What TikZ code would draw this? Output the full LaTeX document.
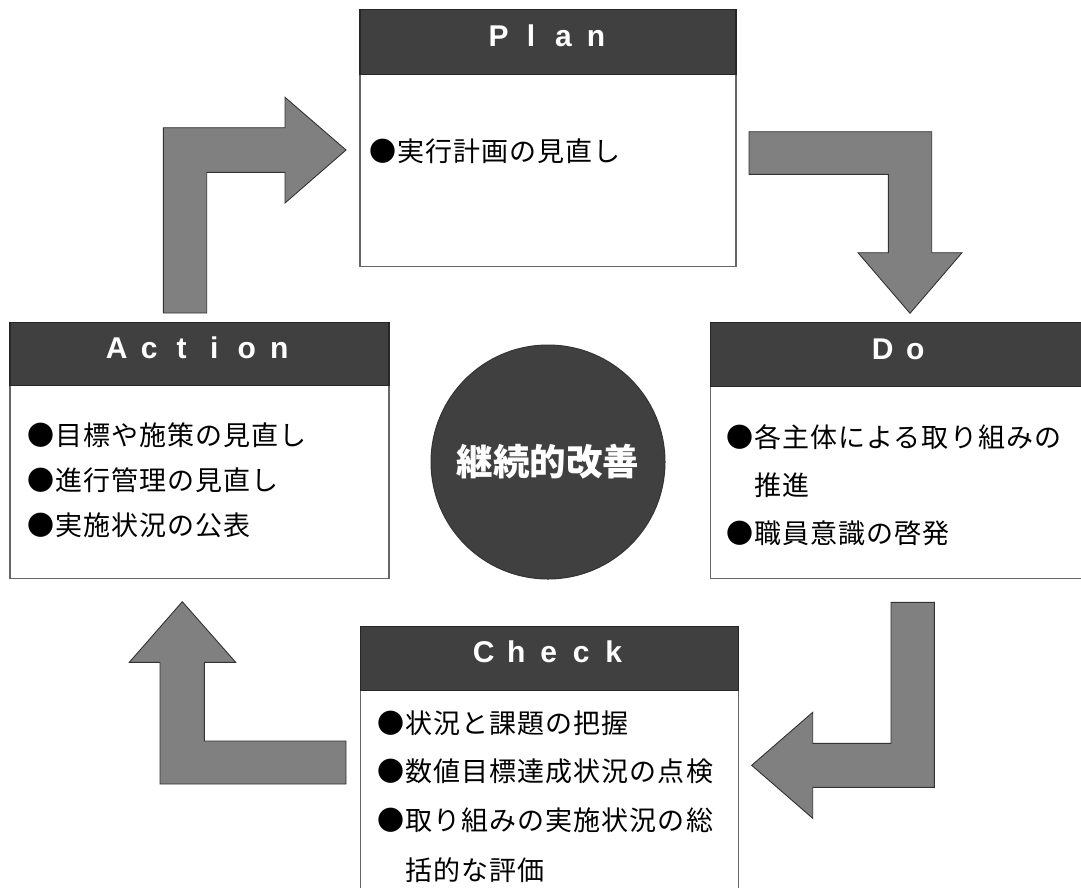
\documentclass[tikz,border=0pt]{standalone}
\usepackage{fontspec}
\newfontfamily\jpfont[LetterSpace=4]{Noto Sans CJK JP}
\newfontfamily\jpplain{Noto Sans CJK JP}
\newfontfamily\hdfont{Liberation Sans}
\newcommand\pitchbox[1]{\makebox[32.5pt]{#1}}
\definecolor{hdgray}{HTML}{404040}
\definecolor{argray}{HTML}{808080}
\begin{document}
\begin{tikzpicture}[x=1pt,y=-1pt,
  box/.style={draw=black!60, line width=1.2pt, fill=white, anchor=north west, inner sep=0pt},
  header/.style={draw=black!85, line width=1.2pt, fill=hdgray, anchor=north west, inner sep=0pt},
  blockarrow/.style={draw=black!80, line width=0.9pt, fill=argray, line join=miter},
  body/.style={anchor=west, inner sep=0pt, font=\jpfont\fontsize{27}{32}\selectfont},
  htext/.style={anchor=base, inner sep=0pt, text=white, font=\hdfont\bfseries\fontsize{30}{36}\selectfont},
  hub/.style={circle, fill=hdgray, draw=black!80, line width=1pt, minimum size=234pt, inner sep=0pt,
    text=white, font=\jpplain\bfseries\fontsize{36.5}{40}\selectfont}]
\useasboundingbox (0,0) rectangle (1081,887);

% ---- boxes ----
\node[box, minimum width=376pt, minimum height=257pt] (plan) at (359.3,9) {};
\node[header, minimum width=376pt, minimum height=65pt] (planhd) at (plan.north west) {};
\node[htext] (planlbl) at (547.3,46.5) {\pitchbox{P}\pitchbox{l}\pitchbox{a}\pitchbox{n}};

\node[box, minimum width=380pt, minimum height=256pt] (do) at (710,322) {};
\node[header, minimum width=380pt, minimum height=64pt] (dohd) at (do.north west) {};
\node[htext] (dolbl) at (899,359) {\pitchbox{D}\pitchbox{o}};

\node[box, minimum width=379pt, minimum height=256pt] (act) at (9.3,321.5) {};
\node[header, minimum width=379pt, minimum height=63.5pt] (acthd) at (act.north west) {};
\node[htext] (actlbl) at (198,358.2) {\pitchbox{A}\pitchbox{c}\pitchbox{t}\pitchbox{i}\pitchbox{o}\pitchbox{n}};

\node[box, minimum width=377.5pt, minimum height=280pt] (chk) at (360,626) {};
\node[header, minimum width=377.5pt, minimum height=64pt] (chkhd) at (chk.north west) {};
\node[htext] (chklbl) at (548.7,662.7) {\pitchbox{C}\pitchbox{h}\pitchbox{e}\pitchbox{c}\pitchbox{k}};

% ---- centre ----
\node[hub] (hub) at (548,462) {継続的改善};

% ---- body texts ----
\node[body] (p1) at (369,151) {●実行計画の見直し};

\node[body] (a1) at (27,435) {●目標や施策の見直し};
\node[body] (a2) at (27,480) {●進行管理の見直し};
\node[body] (a3) at (27,525) {●実施状況の公表};

\node[body] (d1) at (726,436.7) {●各主体による取り組みの};
\node[body] (d2) at (726,485) {　推進};
\node[body] (d3) at (726,533.3) {●職員意識の啓発};

\node[body] (c1) at (377,723.3) {●状況と課題の把握};
\node[body] (c2) at (377,771.7) {●数値目標達成状況の点検};
\node[body] (c3) at (377,820) {●取り組みの実施状況の総};
\node[body] (c4) at (377,870) {　括的な評価};

% ---- block arrows ----
% Action -> Plan
\draw[blockarrow] (163.3,313) -- (163.3,127.7) -- (285,127.7) -- (285,97.3) -- (346,150)
  -- (285,203) -- (285,172.3) -- (206.7,172.3) -- (206.7,313) -- cycle;
% Plan -> Do
\draw[blockarrow] (749,131.7) -- (931.7,131.7) -- (931.7,252.7) -- (962,252.7) -- (910,313.3)
  -- (858,252.7) -- (888.3,252.7) -- (888.3,174.3) -- (749,174.3) -- cycle;
% Do -> Check
\draw[blockarrow] (891,602.3) -- (934.3,602.3) -- (934.3,787.3) -- (812.7,787.3) -- (812.7,818.3)
  -- (751.7,765.3) -- (812.7,712.3) -- (812.7,743.3) -- (891,743.3) -- cycle;
% Check -> Action
\draw[blockarrow] (346,741) -- (346,784) -- (160,784) -- (160,662.3) -- (129.3,662.3)
  -- (182.3,601.7) -- (235.7,662.3) -- (204.3,662.3) -- (204.3,741) -- cycle;
\end{tikzpicture}
\end{document}
